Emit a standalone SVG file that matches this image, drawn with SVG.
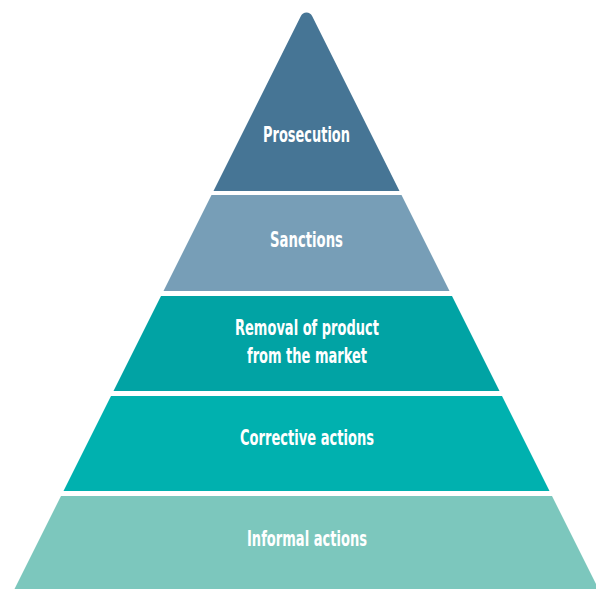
<svg xmlns="http://www.w3.org/2000/svg" width="596" height="589" viewBox="0 0 596 589">
<style>
.lbl{font-family:"Liberation Sans Narrow","DejaVu Sans Condensed","Liberation Sans",sans-serif;font-weight:bold;font-size:21.5px;fill:#ffffff;text-anchor:middle}
</style>
<rect width="596" height="589" fill="#ffffff"/>
<g id="prosecution">
<path d="M213.5,191 L300.9,16.1 A6.2,6.2 0 0 1 312.1,16.1 L399.5,191 Z" fill="#467595"/>
<text class="lbl" x="306.5" y="142" textLength="87" lengthAdjust="spacingAndGlyphs">Prosecution</text>
</g>
<g id="sanctions">
<path d="M211.5,195 L401.5,195 L449.5,291 L163.5,291 Z" fill="#779EB7"/>
<text class="lbl" x="306.5" y="246.5" textLength="73" lengthAdjust="spacingAndGlyphs">Sanctions</text>
</g>
<g id="removal">
<path d="M161,296 L452,296 L499.5,391 L113.5,391 Z" fill="#01A3A4"/>
<text class="lbl" x="307" y="335" textLength="144" lengthAdjust="spacingAndGlyphs">Removal of product</text>
<text class="lbl" x="307" y="363" textLength="120" lengthAdjust="spacingAndGlyphs">from the market</text>
</g>
<g id="corrective">
<path d="M111,396 L502,396 L549.5,491 L63.5,491 Z" fill="#00B1AF"/>
<text class="lbl" x="307" y="445" textLength="134" lengthAdjust="spacingAndGlyphs">Corrective actions</text>
</g>
<g id="informal">
<path d="M61,496 L552,496 L598.5,589 L14.5,589 Z" fill="#7CC7BD"/>
<text class="lbl" x="307" y="546" textLength="120" lengthAdjust="spacingAndGlyphs">Informal actions</text>
</g>
<g id="connectors"/>
</svg>
